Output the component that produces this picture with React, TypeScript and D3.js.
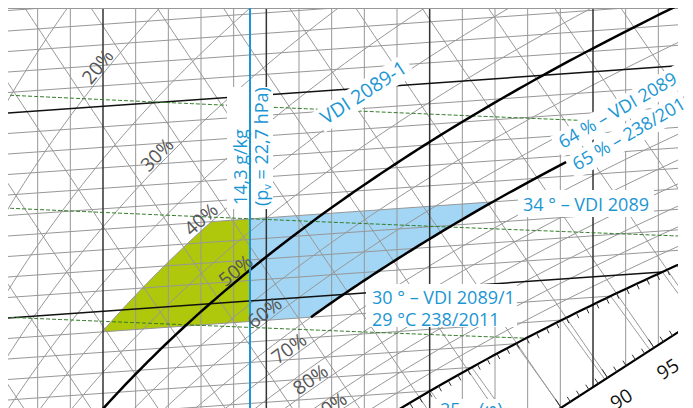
import React from 'react';
import * as d3 from 'd3';

// ---------------- data ----------------
const PRESSURE_HPA = 1013.25;
const waterContentGrid = d3.range(4, 30); // g/kg vertical grid
const waterContentMajor = [5, 10, 15, 20, 25];
const isothermGrid = d3.range(16, 48); // °C
const isothermMajor = [20, 30, 40];
const enthalpyGrid = d3.range(40, 125, 5); // kJ/kg
const rhGrid = [10, 15, 20, 25, 30, 35, 40, 45, 50, 55, 60, 65, 70, 75, 80, 85, 90, 95];
const rhLabelValues = [20, 30, 40, 50, 60, 70, 80, 90];
const rhLabelTexts = ['20%', '30%', '40%', '50%', '60%', '70%', '80%', '90%'];
const densityValues = [1.1193, 1.1393, 1.1593]; // kg/m³
const densityMaxX = [25.3, 40, 40];
const fogIsotherms = d3.range(18, 32);
const comfortRh = 50; // VDI 2089-1 curve
const limitRh = 65; // 64 % VDI 2089 / 65 % 238/2011
const limitRhT = [29, 36];
const sultryLimitX = 14.5; // drawn position of the 14,3 g/kg line
const zoneT = [29, 34];
const zoneLeftRh = 40;
const hScaleX = [24.0, 27.6];
const hScaleT = [23.7, 27.0];
const hScaleLabels = [90, 95];
const hScaleTicks = d3.range(70, 110);
const satTicks = d3.range(55, 110);

// ---------------- physics ----------------
const ps = (t: number) => 6.112 * Math.exp((17.62 * t) / (243.12 + t));
const xOf = (phi: number, t: number) => (622 * phi * ps(t)) / (PRESSURE_HPA - phi * ps(t));
const hOf = (x: number, t: number) => 1.006 * t + (x / 1000) * (2501 + 1.86 * t);
const tOnH = (h: number, x: number) => (h - 2.501 * x) / (1.006 + 0.00186 * x);

// ---------------- scales ----------------
const xs = d3.scaleLinear().domain([10, 25]).range([103, 593]);
const ts = d3.scaleLinear().domain([30, 40]).range([318, 113]);
const X0 = xs.invert(8);
const SKEW = 2.3;
type Pt = [number, number];
const P = (x: number, t: number): Pt => [xs(x), ts(t) - SKEW * (x - X0)];

const line = d3.line<Pt>();
const poly = (pts: Pt[]) => line(pts) + 'Z';

const A = P(hScaleX[0], hScaleT[0]);
const B = P(hScaleX[1], hScaleT[1]);
const side = (p: Pt) => (B[0] - A[0]) * (p[1] - A[1]) - (B[1] - A[1]) * (p[0] - A[0]);

function clipToScale(pts: Pt[]): Pt[] {
  const out: Pt[] = [];
  for (let i = 0; i < pts.length; i++) {
    const p = pts[i];
    if (side(p) < 0) {
      out.push(p);
    } else {
      if (i > 0 && side(pts[i - 1]) < 0) {
        const q = pts[i - 1];
        const s0 = side(q), s1 = side(p);
        const f = s0 / (s0 - s1);
        out.push([q[0] + (p[0] - q[0]) * f, q[1] + (p[1] - q[1]) * f]);
      }
      break;
    }
  }
  return out;
}

const rhCurve = (rh: number, t0: number, t1: number, n = 80): Pt[] =>
  d3.range(n + 1).map((i) => {
    const t = t0 + ((t1 - t0) * i) / n;
    return P(xOf(rh / 100, t), t);
  });

const bisect = (f: (v: number) => number, lo: number, hi: number) => {
  let a = lo, b = hi;
  const fa = f(a);
  for (let i = 0; i < 60; i++) {
    const m = (a + b) / 2;
    if (Math.sign(f(m)) === Math.sign(fa)) a = m; else b = m;
  }
  return (a + b) / 2;
};

const GRID = '#979797';
const BLUE = '#1c96d3';
const FONT = "'Open Sans', 'DejaVu Sans', sans-serif";

export default function App() {
  const verticals = waterContentGrid.map((x) => {
    const X = xs(x);
    let yEnd = 410;
    const yl = A[1] + ((X - A[0]) * (B[1] - A[1])) / (B[0] - A[0]);
    if (yl < yEnd) yEnd = yl;
    return { x, X, yEnd };
  });

  const isoPath = (t: number) => {
    const xsEnd = Math.min(xOf(1, t), 40);
    return line([P(0, t), P(xsEnd, t)]);
  };

  const enthalpyPaths = enthalpyGrid.map((h) => {
    const pts: Pt[] = d3.range(0, 40, 0.1).map((x) => P(x, tOnH(h, x)));
    return line(clipToScale(pts));
  });

  const fogPaths = fogIsotherms.map((t) => {
    const x0 = xOf(1, t);
    const h0 = hOf(x0, t);
    const pts: Pt[] = d3.range(0, 12, 0.05).map((dx) => {
      const x = x0 + dx;
      const h = h0 + (4.19 * t * dx) / 1000;
      return P(x, tOnH(h, x));
    });
    return line(clipToScale(pts));
  });

  const rhPaths = rhGrid.map((rh) => {
    const pts = rhCurve(rh, 0, 60, 240).filter((p) => isFinite(p[0]) && p[0] < 900 && p[0] > -200);
    return line(pts);
  });

  const satPts = rhCurve(100, 10, 40, 200);

  const densityPaths = densityValues.map((rho, i) => {
    const pts: Pt[] = [];
    for (let x = 0; x <= densityMaxX[i]; x += 0.1) {
      const T = (PRESSURE_HPA * 100 * (1 + x / 1000)) / (rho * 287.05 * (1 + (1.608 * x) / 1000)) - 273.15;
      if (x > xOf(1, T)) break;
      pts.push(P(x, T));
    }
    return line(pts);
  });

  const satTickLines = satTicks.map((h) => {
    const t = bisect((tt) => hOf(xOf(1, tt), tt) - h, 0, 45);
    const p = P(xOf(1, t), t);
    const q = P(xOf(1, t + 0.05), t + 0.05);
    const dx = q[0] - p[0], dy = q[1] - p[1];
    const len = Math.hypot(dx, dy);
    const n: Pt = [-dy / len, dx / len];
    return { p, q: [p[0] + n[0] * 6, p[1] + n[1] * 6] as Pt };
  });

  const scalePoint = (s: number): [number, number] => [
    hScaleX[0] + (hScaleX[1] - hScaleX[0]) * s,
    hScaleT[0] + (hScaleT[1] - hScaleT[0]) * s,
  ];
  const scaleS = (h: number) => bisect((s) => { const [x, t] = scalePoint(s); return hOf(x, t) - h; }, -3, 4);
  const sa = P(...scalePoint(-3));
  const sb = P(...scalePoint(3));
  const sdx = B[0] - A[0], sdy = B[1] - A[1];
  const slen = Math.hypot(sdx, sdy);
  const nUp: Pt = [sdy / slen, -sdx / slen];
  const scaleAngle = (Math.atan2(sdy, sdx) * 180) / Math.PI;
  const scaleTickLines = hScaleTicks.map((h) => {
    const p = P(...scalePoint(scaleS(h)));
    const L = h % 5 === 0 ? 10 : 6;
    return { p, q: [p[0] + nUp[0] * L, p[1] + nUp[1] * L] as Pt };
  });
  const scaleLabelPos = hScaleLabels.map((h) => {
    const p = P(...scalePoint(scaleS(h)));
    return [p[0] - nUp[0] * 25, p[1] - nUp[1] * 25] as Pt;
  });

  const H_L = 67.8;
  const rhLabels = rhLabelValues.map((rh, i) => {
    const phi = rh / 100;
    const t = bisect((tt) => hOf(xOf(phi, tt), tt) - H_L, 5, 60);
    const p = P(xOf(phi, t), t);
    const q = P(xOf(phi, t + 0.1), t + 0.1);
    const dx = q[0] - p[0], dy = q[1] - p[1];
    const len = Math.hypot(dx, dy);
    const n: Pt = [dy / len, -dx / len];
    const c: Pt = [p[0] + n[0] * 9, p[1] + n[1] * 9];
    return { c, angle: (Math.atan2(dy, dx) * 180) / Math.PI, text: rhLabelTexts[i] };
  });

  const green: Pt[] = [
    ...rhCurve(zoneLeftRh, zoneT[0], zoneT[1], 40),
    P(sultryLimitX, zoneT[1]),
    P(sultryLimitX, zoneT[0]),
  ];
  const blue: Pt[] = [
    P(sultryLimitX, zoneT[1]),
    ...rhCurve(limitRh, zoneT[1], zoneT[0], 40),
    P(sultryLimitX, zoneT[0]),
  ];

  const blueTextStyle = { fontFamily: FONT, fontSize: 18, fill: BLUE } as const;

  return (
    <svg width={693} height={408} style={{ position: 'absolute', left: 0, top: 0, background: '#fff' }}>
      <defs>
        <clipPath id="plot">
          <rect x={8} y={8} width={670} height={400} />
        </clipPath>
        <clipPath id="txt">
          <rect x={0} y={0} width={684} height={408} />
        </clipPath>
      </defs>
      <g clipPath="url(#plot)">
        <path d={poly(green)} fill="#afc80c" />
        <path d={poly(blue)} fill="#a2d6f4" />
        {verticals.map((v) =>
          waterContentMajor.includes(v.x) ? null : (
            <line key={'v' + v.x} x1={v.X} x2={v.X} y1={8} y2={v.yEnd} stroke={GRID} strokeWidth={1} />
          )
        )}
        {isothermGrid.filter((t) => !isothermMajor.includes(t)).map((t) => (
          <path key={'i' + t} d={isoPath(t) || ''} stroke={GRID} fill="none" strokeWidth={1} />
        ))}
        {enthalpyPaths.map((d, i) => (
          <path key={'h' + i} d={d || ''} stroke={GRID} fill="none" strokeWidth={1} />
        ))}
        {fogPaths.map((d, i) => (
          <path key={'f' + i} d={d || ''} stroke={GRID} fill="none" strokeWidth={1} />
        ))}
        {rhPaths.map((d, i) => (
          <path key={'r' + i} d={d || ''} stroke={GRID} fill="none" strokeWidth={1} />
        ))}
        {verticals.filter((v) => waterContentMajor.includes(v.x)).map((v) => (
          <line key={'vm' + v.x} x1={v.X} x2={v.X} y1={8} y2={v.yEnd} stroke="#333" strokeWidth={1.5} />
        ))}
        {isothermMajor.map((t) => (
          <path key={'im' + t} d={isoPath(t) || ''} stroke="#111" fill="none" strokeWidth={1.5} />
        ))}
        {densityPaths.map((d, i) => (
          <path key={'d' + i} d={d || ''} stroke="#2f7a25" fill="none" strokeWidth={1} strokeDasharray="4 2" />
        ))}
        <line x1={8} x2={678} y1={8.5} y2={8.5} stroke={GRID} strokeWidth={1} />
        <path d={line(rhCurve(comfortRh, 10, 50, 200)) || ''} stroke="#000" strokeWidth={2.5} fill="none" />
        <path d={line(rhCurve(limitRh, limitRhT[0], limitRhT[1], 60)) || ''} stroke="#000" strokeWidth={2.5} fill="none" />
        <path d={line(satPts) || ''} stroke="#000" strokeWidth={2.2} fill="none" />
        {satTickLines.map((s, i) => (
          <line key={'st' + i} x1={s.p[0]} y1={s.p[1]} x2={s.q[0]} y2={s.q[1]} stroke="#333" strokeWidth={1} />
        ))}
        <line x1={sa[0]} y1={sa[1]} x2={sb[0]} y2={sb[1]} stroke="#000" strokeWidth={2.2} />
        {scaleTickLines.map((s, i) => (
          <line key={'sc' + i} x1={s.p[0]} y1={s.p[1]} x2={s.q[0]} y2={s.q[1]} stroke="#333" strokeWidth={1} />
        ))}
      </g>

      {/* white label backgrounds */}
      <rect x={227} y={87} width={46} height={122} fill="#fff" />
      <g transform="translate(326,125) rotate(-33)">
        <rect x={-5} y={-18} width={108} height={24} fill="#fff" />
      </g>
      <g transform="translate(563,149) rotate(-30)">
        <rect x={-5} y={-17} width={160} height={24} fill="#fff" />
      </g>
      <g transform="translate(577,171) rotate(-30)">
        <rect x={-5} y={-17} width={160} height={24} fill="#fff" />
      </g>
      <rect x={518} y={190} width={136} height={27} fill="#fff" />
      <rect x={366} y={284} width={151} height={43} fill="#fff" />
      <rect x={434} y={399} width={70} height={12} fill="#fff" />

      <line x1={xs(sultryLimitX)} x2={xs(sultryLimitX)} y1={8} y2={408} stroke={BLUE} strokeWidth={2} />

      <g clipPath="url(#txt)">
        <text transform="translate(246.5,205) rotate(-90)" style={blueTextStyle}>14,3 g/kg</text>
        <text transform="translate(268,206) rotate(-90)" style={blueTextStyle}>
          (p<tspan fontSize={11} dy={3}>v</tspan>
          <tspan dy={-3}> = 22,7 hPa)</tspan>
        </text>
        <text transform="translate(326,125) rotate(-33)" style={{ ...blueTextStyle, fontSize: 19.5 }}>VDI 2089-1</text>
        <text transform="translate(563,149) rotate(-30)" style={blueTextStyle}>64 % – VDI 2089</text>
        <text transform="translate(577,171) rotate(-30)" style={blueTextStyle}>65 % – 238/2011</text>
        <text x={523} y={211} style={blueTextStyle}>34 ° – VDI 2089</text>
        <text x={372} y={303.5} style={blueTextStyle}>30 ° – VDI 2089/1</text>
        <text x={372} y={326} style={blueTextStyle}>29 °C 238/2011</text>
        <text x={440} y={416} style={blueTextStyle}>25 – (φ)</text>
        {rhLabels.map((l) => (
          <text
            key={l.text}
            transform={`translate(${l.c[0]},${l.c[1]}) rotate(${l.angle})`}
            textAnchor="middle"
            dominantBaseline="central"
            style={{ fontFamily: FONT, fontSize: 19, fill: '#555' }}
          >
            {l.text}
          </text>
        ))}
        {scaleLabelPos.map((p, i) => (
          <text
            key={'sl' + i}
            transform={`translate(${p[0]},${p[1]}) rotate(${scaleAngle})`}
            textAnchor="middle"
            dominantBaseline="central"
            style={{ fontFamily: FONT, fontSize: 19, fill: '#111' }}
          >
            {hScaleLabels[i]}
          </text>
        ))}
      </g>
    </svg>
  );
}
